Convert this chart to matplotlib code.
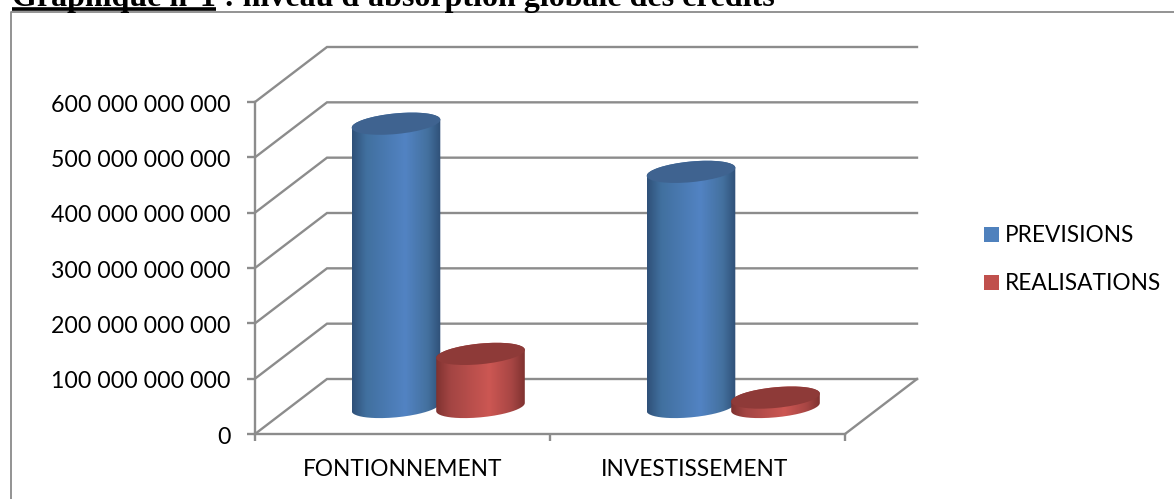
import numpy as np
import matplotlib
matplotlib.use("Agg")
import matplotlib.pyplot as plt
from matplotlib.patches import Ellipse, PathPatch, Rectangle
from matplotlib.path import Path
from matplotlib.colors import LinearSegmentedColormap
from matplotlib.ticker import FuncFormatter
from matplotlib.transforms import ScaledTranslation

categories = ["FONTIONNEMENT", "INVESTISSEMENT"]
series_names = ["PREVISIONS", "REALISATIONS"]
previsions = [512e9, 425e9]
realisations = [96e9, 17e9]
y_ticks = [0, 100e9, 200e9, 300e9, 400e9, 500e9, 600e9]
title_lead = "Graphique n°1"
title_rest = " : niveau d'absorption globale des crédits"

W, H = 1174, 499
GRID = "#8c8c8c"
GRID_LW = 1.7
plt.rcParams["font.family"] = ["Lato", "DejaVu Sans"]

fig = plt.figure(figsize=(W / 100, H / 100), dpi=100, facecolor="white")

# Front plane of the pseudo-3D box: category/value scales live here.
L, R, T, B = 255, 845, 102, 434
ax = fig.add_axes([L / W, 1 - B / H, (R - L) / W, (B - T) / H])
ax.set_xlim(0, 2)
ax.set_ylim(0, 600e9)
ax.patch.set_alpha(0)
ax.set_zorder(3)
for s in ("top", "right"):
    ax.spines[s].set_visible(False)
for s in ("left", "bottom"):
    ax.spines[s].set_color(GRID)
    ax.spines[s].set_linewidth(GRID_LW)
ax.set_yticks(y_ticks)
ax.yaxis.set_major_formatter(
    FuncFormatter(lambda v, _: f"{int(v):,}".replace(",", " "))
)
ax.set_xticks([0, 1, 2])
ax.set_xticklabels([])
ax.tick_params(axis="x", color=GRID, width=GRID_LW, length=5)
ax.tick_params(axis="y", color=GRID, width=GRID_LW, length=5.8, labelsize=16.7, pad=12)
# Nudge the value labels down a pixel so they sit centred on their ticks.
for lab in ax.get_yticklabels():
    lab.set_transform(lab.get_transform() + ScaledTranslation(0, -1 / 100, fig.dpi_scale_trans))
for pos, name in zip((0.5, 1.49), categories):
    ax.text(pos, -0.107, name, transform=ax.get_xaxis_transform(),
            ha="center", va="center", fontsize=16.3, color="black")

# Pixel-space layer for the depth projection.
px = fig.add_axes([0, 0, 1, 1])
px.set_xlim(0, W)
px.set_ylim(H, 0)
px.axis("off")
px.set_zorder(2)


def to_px(x, v):
    xd, yd = ax.transData.transform((x, v))
    return xd, H - yd


DX, DY = 72, -55

# Walls, floor and gridlines.
for v in y_ticks:
    x0, y0 = to_px(0, v)
    px.plot([x0, x0 + DX, R + DX], [y0, y0 + DY, y0 + DY],
            color=GRID, lw=GRID_LW, solid_joinstyle="miter", zorder=1)
xr, yr = to_px(2, 0)
px.plot([xr, xr + DX], [yr, yr + DY], color=GRID, lw=GRID_LW, zorder=1)

# Chart frame, which runs off the right and bottom edges.
px.plot([11, 11, W], [H, 11.5, 11.5], color="#8a8a8a", lw=1.3, zorder=1)


def cylinder(cx, bottom_y, value, colors, top_color):
    """Upright cylinder with a shaded body and tilted elliptical caps."""
    half_w, half_h, tilt = 44.5, 10.3, -5.5
    height = to_px(0, 0)[1] - to_px(0, value)[1]
    top_y = bottom_y - height
    cap = dict(width=2 * half_w, height=2 * half_h, angle=tilt)

    # Body outline: side lines joined by the lower half of the base ellipse.
    t = np.radians(tilt)
    theta = np.linspace(0, np.pi, 80)
    ex = half_w * np.cos(theta) * np.cos(t) - half_h * np.sin(theta) * np.sin(t)
    ey = half_w * np.cos(theta) * np.sin(t) + half_h * np.sin(theta) * np.cos(t)
    verts = np.column_stack([cx + ex, bottom_y + ey])
    top_theta = np.linspace(np.pi, 2 * np.pi, 80)
    tx = half_w * np.cos(top_theta) * np.cos(t) - half_h * np.sin(top_theta) * np.sin(t)
    ty = half_w * np.cos(top_theta) * np.sin(t) + half_h * np.sin(top_theta) * np.cos(t)
    verts = np.vstack([verts, np.column_stack([cx + tx, top_y + ty]), verts[:1]])
    outline = PathPatch(Path(verts), transform=px.transData, fc="none", ec="none")
    px.add_patch(outline)

    cmap = LinearSegmentedColormap.from_list("shade", colors)
    img = px.imshow(
        np.linspace(0, 1, 256)[None, :], cmap=cmap, aspect="auto",
        extent=(cx - half_w, cx + half_w, bottom_y + 14, top_y - 14),
        zorder=5 + cx / 1000, interpolation="bilinear",
    )
    img.set_clip_path(outline)
    px.add_patch(Ellipse((cx, top_y), fc=top_color, ec="none",
                         zorder=5.0005 + cx / 1000, **cap))


BLUE = [(0, "#2f5078"), (0.16, "#41709f"), (0.6, "#5283c3"), (0.85, "#44719f"), (1, "#2f5078")]
RED = [(0, "#7f3230"), (0.16, "#a34543"), (0.6, "#cc5753"), (0.85, "#a84644"), (1, "#7f3230")]
BASE_Y = 407
CENTERS = [(396, 480.5), (691, 775.5)]
for i, (cb, cr) in enumerate(CENTERS):
    cylinder(cb, BASE_Y, previsions[i], BLUE, "#3f6390")
    cylinder(cr, BASE_Y, realisations[i], RED, "#8e3a38")
px.set_xlim(0, W)
px.set_ylim(H, 0)

# Legend.
for y, name, color in zip((234.5, 282.5), series_names, ("#4f81bd", "#c0504d")):
    px.add_patch(Rectangle((984, y - 7.5), 15, 15, fc=color, ec="none"))
    px.text(1005, y + 0.5, name, fontsize=16.3, va="center", ha="left", color="black")

# Heading above the frame, its top running past the edge of the page.
TITLE_SIZE = 23
lead = px.text(12, 5.5, title_lead, family="Liberation Serif", weight="bold",
               fontsize=TITLE_SIZE, va="baseline", ha="left", color="black", zorder=6)
fig.canvas.draw()
bb = lead.get_window_extent()
px.text(bb.x1, 5.5, title_rest, family="Liberation Serif", weight="bold",
        fontsize=TITLE_SIZE, va="baseline", ha="left", color="black", zorder=6)
px.plot([12, bb.x1], [9, 9], color="black", lw=2.6, solid_capstyle="butt", zorder=6)

fig.savefig("out.png", dpi=100)
